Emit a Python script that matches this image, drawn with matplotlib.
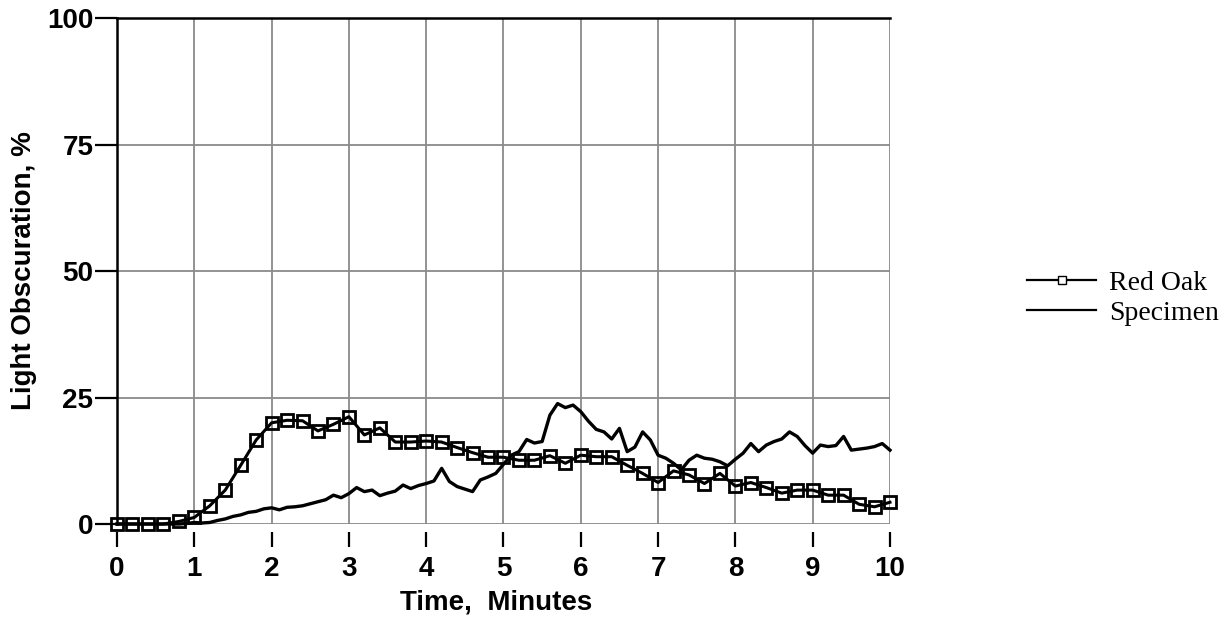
import numpy as np
import matplotlib
matplotlib.use('Agg')
import matplotlib.pyplot as plt
from matplotlib.lines import Line2D

# Red Oak: one reading every 0.2 min
oak_time = np.arange(0, 10.01, 0.2)
oak_value = [0, 0, 0, 0, 0.5, 1.3, 3.6, 6.7, 11.6, 16.6,
             20.0, 20.5, 20.4, 18.4, 19.7, 21.2, 17.6, 19.0, 16.2, 16.2,
             16.4, 16.2, 15.1, 14.1, 13.2, 13.2, 12.6, 12.6, 13.5, 12.0,
             13.6, 13.3, 13.3, 11.6, 10.0, 8.2, 10.5, 9.7, 8.0, 10.0,
             7.5, 8.2, 7.2, 6.1, 6.7, 6.7, 5.7, 5.7, 3.9, 3.4, 4.3]

# Specimen: one reading every 0.1 min
spec_time = np.arange(0, 10.001, 0.1)
spec_value = [0, 0, 0, 0, 0, 0, 0, 0, 0, 0.1,
              0.3, 0.2, 0.3, 0.7, 1.0, 1.5, 1.8, 2.3, 2.5, 3.0,
              3.2, 2.8, 3.3, 3.4, 3.6, 4.0, 4.4, 4.8, 5.7, 5.2,
              6.0, 7.2, 6.4, 6.7, 5.6, 6.1, 6.5, 7.7, 7.0, 7.6,
              8.0, 8.5, 11.0, 8.4, 7.4, 6.9, 6.4, 8.7, 9.3, 10.0,
              11.8, 13.6, 14.3, 16.7, 16.0, 16.3, 21.5, 23.8, 23.0, 23.5,
              22.2, 20.3, 18.7, 18.2, 16.8, 18.9, 14.3, 15.2, 18.2, 16.6,
              13.6, 13.0, 12.0, 10.7, 12.6, 13.6, 13.0, 12.8, 12.3, 11.5,
              12.8, 14.0, 15.9, 14.3, 15.6, 16.3, 16.8, 18.2, 17.3, 15.5,
              14.0, 15.6, 15.3, 15.5, 17.3, 14.6, 14.8, 15.0, 15.3, 15.9, 14.6]

x_ticks = list(range(0, 11))
y_ticks = [0, 25, 50, 75, 100]

plt.rcParams['font.family'] = ['Liberation Sans', 'DejaVu Sans']

fig = plt.figure(figsize=(12.24, 6.21), dpi=100)
ax = fig.add_axes([0.0956, 0.1562, 0.6315, 0.8148])

ax.plot(spec_time, spec_value, color='black', lw=2.4, clip_on=False, zorder=3)
ax.plot(oak_time, oak_value, color='black', lw=2.2, marker='s', ms=8,
        mfc='none', mec='black', mew=2.0, clip_on=False, zorder=4)

ax.set_xlim(0, 10)
ax.set_ylim(0, 100)
ax.set_xticks(x_ticks)
ax.set_yticks(y_ticks)
ax.grid(True, color='#8a8a8a', lw=1.3)
ax.set_axisbelow(True)

ax.spines['right'].set_visible(False)
ax.spines['bottom'].set_position(('outward', 6))
ax.spines['bottom'].set_visible(False)
ax.spines['left'].set_linewidth(1.8)
ax.spines['top'].set_linewidth(1.8)

ax.tick_params(axis='x', direction='out', length=11, width=1.6, pad=6,
               labelsize=20)
ax.tick_params(axis='y', direction='out', length=16, width=1.6, pad=1,
               labelsize=20)
for lab in ax.get_xticklabels() + ax.get_yticklabels():
    lab.set_fontweight('bold')

ax.set_xlabel('Time,  Minutes', fontsize=20, fontweight='bold')
ax.xaxis.set_label_coords(0.49, -0.13)
ax.set_ylabel('Light Obscuration, %', fontsize=20, fontweight='bold', labelpad=7)

handles = [Line2D([], [], color='black', lw=1.6, marker='s', ms=6,
                  mfc='white', mec='black', mew=1.0),
           Line2D([], [], color='black', lw=1.6)]
fig.legend(handles, ['Red Oak', 'Specimen'], loc='center left',
           bbox_to_anchor=(0.839, 0.52), frameon=False, handlelength=2.5,
           handletextpad=0.45, labelspacing=0.15, borderpad=0,
           borderaxespad=0,
           prop={'family': 'Liberation Serif', 'size': 20})

fig.savefig('out.png', dpi=100)
